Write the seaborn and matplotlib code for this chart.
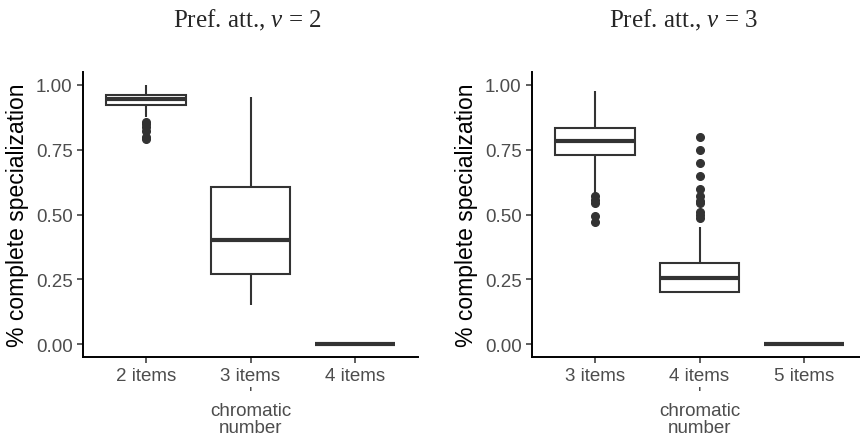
import pandas as pd
import matplotlib
matplotlib.use("Agg")
import matplotlib.pyplot as plt
import seaborn as sns

# Box statistics (share of complete specialization)
left_title = "Pref. att., $v$ = 2"
left_cats = ["2 items", "3 items", "4 items"]
left_lo = [0.875, 0.150, 0.0]
left_q1 = [0.922, 0.272, 0.0]
left_med = [0.946, 0.403, 0.0]
left_q3 = [0.963, 0.605, 0.0]
left_hi = [1.000, 0.955, 0.0]
left_out = [[0.858, 0.849, 0.836, 0.824, 0.800, 0.791], [], []]

right_title = "Pref. att., $v$ = 3"
right_cats = ["3 items", "4 items", "5 items"]
right_lo = [0.580, 0.200, 0.0]
right_q1 = [0.730, 0.200, 0.0]
right_med = [0.782, 0.253, 0.0]
right_q3 = [0.832, 0.312, 0.0]
right_hi = [0.977, 0.450, 0.0]
right_out = [[0.570, 0.556, 0.545, 0.496, 0.471],
             [0.800, 0.750, 0.700, 0.650, 0.600, 0.570, 0.553, 0.545, 0.510, 0.500, 0.486],
             []]

y_ticks = [0.0, 0.25, 0.5, 0.75, 1.0]
y_tick_labels = ["0.00", "0.25", "0.50", "0.75", "1.00"]


def build_table(cats, lo, q1, med, q3, hi, out):
    # long table whose quartiles / whiskers / outliers reproduce the stats above
    rows = []
    for i, cat in enumerate(cats):
        vals = [lo[i], hi[i]] + [q1[i]] * 30 + [med[i]] * 30 + [q3[i]] * 30 + out[i]
        rows += [(cat, v) for v in vals]
    return pd.DataFrame(rows, columns=["chromatic", "value"])


sns.set_theme(style="ticks")
plt.rcParams["font.family"] = ["Liberation Sans", "DejaVu Sans"]
plt.rcParams["mathtext.fontset"] = "custom"
plt.rcParams["mathtext.rm"] = "Liberation Serif"
plt.rcParams["mathtext.it"] = "Liberation Serif:italic"

line_col = "#333333"
fig = plt.figure(figsize=(8.6, 4.35), dpi=100)

panels = [
    (83, left_title, 247, build_table(left_cats, left_lo, left_q1, left_med, left_q3, left_hi, left_out), left_cats),
    (532, right_title, 684, build_table(right_cats, right_lo, right_q1, right_med, right_q3, right_hi, right_out), right_cats),
]

for x0, title, title_x, df, cats in panels:
    ax = fig.add_axes([x0 / 860, 1 - 358 / 435, 335 / 860, 285 / 435])
    sns.boxplot(
        data=df, x="chromatic", y="value", order=cats, ax=ax,
        width=0.76, color="white", linecolor=line_col, linewidth=1.5,
        showcaps=False, whis=1.5,
        medianprops=dict(linewidth=3.0, color=line_col),
        flierprops=dict(marker="o", markersize=5.5, markerfacecolor=line_col,
                        markeredgecolor=line_col),
    )
    ax.set_xlim(-0.6, 2.6)
    ax.set_ylim(-0.05, 1.05)
    ax.set_yticks(y_ticks)
    ax.set_yticklabels(y_tick_labels)
    ax.set_ylabel("% complete specialization", fontsize=16.5, color="black", labelpad=5)
    ax.set_xlabel("'\nchromatic\nnumber", fontsize=13.5, color="#4D4D4D",
                  linespacing=0.95, labelpad=1)
    sns.despine(ax=ax)
    for side in ["left", "bottom"]:
        ax.spines[side].set_color("black")
        ax.spines[side].set_linewidth(1.4)
    ax.tick_params(axis="both", colors=line_col, labelcolor="#4D4D4D",
                   labelsize=13.5, length=4.5, width=1.1, pad=3)
    fig.text(title_x / 860, 1 - 27 / 435, title, ha="center", va="baseline",
             fontsize=18, family="Liberation Serif")

fig.savefig("out.png", dpi=100)
